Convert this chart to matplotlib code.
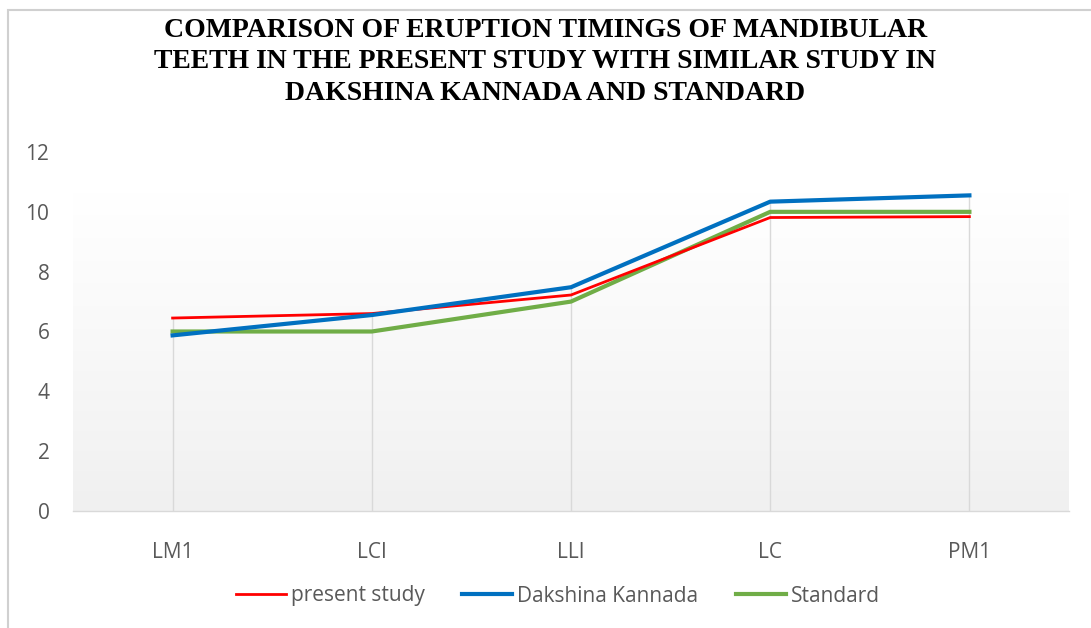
import matplotlib
matplotlib.use("Agg")
import matplotlib.pyplot as plt
import numpy as np
from matplotlib.colors import LinearSegmentedColormap

categories = ["LM1", "LCI", "LLI", "LC", "PM1"]
present_study = [6.45, 6.6, 7.22, 9.81, 9.84]
dakshina_kannada = [5.87, 6.55, 7.48, 10.34, 10.55]
standard = [6.0, 6.0, 7.0, 10.0, 10.0]
yticks = [0, 2, 4, 6, 8, 10, 12]
title = ("COMPARISON OF ERUPTION TIMINGS OF MANDIBULAR\n"
         "TEETH IN THE PRESENT STUDY WITH SIMILAR STUDY IN\n"
         "DAKSHINA KANNADA AND STANDARD")

W, H = 1091, 628
fig = plt.figure(figsize=(W / 100, H / 100), dpi=100)
fig.patch.set_facecolor("white")

# outer chart border
border = plt.Rectangle((8 / W, -0.01), 1.1, 1 - 10 / H + 0.01, transform=fig.transFigure,
                       fill=False, edgecolor="#d0d0d0", linewidth=1.5)
fig.add_artist(border)

ax = fig.add_axes([73 / W, 1 - 511 / H, (1069 - 73) / W, (511 - 152) / H])
x = np.arange(len(categories))

# gradient background (white at top to light gray at bottom)
cmap = LinearSegmentedColormap.from_list("g", ["#f0f0f0", "#f8f8f8", "#ffffff"])
grad = np.linspace(0, 1, 256).reshape(-1, 1)
ax.imshow(grad, extent=(-0.5, len(categories) - 0.5, 0, 10.65), origin="lower",
          cmap=cmap, aspect="auto", zorder=0)
ax.set_ylim(0, 12)
ax.set_xlim(-0.5, len(categories) - 0.5)

# drop lines from the highest series value down to the axis
tops = np.max(np.vstack([present_study, dakshina_kannada, standard]), axis=0)
ax.vlines(x, 0, tops, color="#d9d9d9", linewidth=1, zorder=1)

ax.plot(x, present_study, color="#ff0000", linewidth=2.0, label="present study", zorder=3)
ax.plot(x, dakshina_kannada, color="#0070c0", linewidth=3.0, label="Dakshina Kannada", zorder=3)
ax.plot(x, standard, color="#70ad47", linewidth=3.0, label="Standard", zorder=2.5)

for s in ["top", "right", "left"]:
    ax.spines[s].set_visible(False)
ax.spines["bottom"].set_color("#d9d9d9")
ax.spines["bottom"].set_linewidth(1)

ax.set_xticks(x)
ax.set_xticklabels(categories)
ax.set_yticks(yticks)
ax.tick_params(axis="both", length=0, colors="#595959", labelsize=15)
ax.tick_params(axis="x", pad=22)
ax.tick_params(axis="y", pad=17)
for lab in ax.get_xticklabels() + ax.get_yticklabels():
    lab.set_fontfamily("Open Sans")

fig.text(0.5, 1 - 62 / H, title, ha="center", va="center", fontsize=20,
         fontweight="bold", family="Liberation Serif", linespacing=1.32, color="#000000")

leg = fig.legend(loc="center", bbox_to_anchor=(558 / W, 1 - 596 / H), ncol=3,
                 frameon=False, prop={"family": "Open Sans", "size": 15},
                 handlelength=2.4, columnspacing=1.8, handletextpad=0.25)
for t in leg.get_texts():
    t.set_color("#595959")

fig.savefig("out.png", dpi=100)
